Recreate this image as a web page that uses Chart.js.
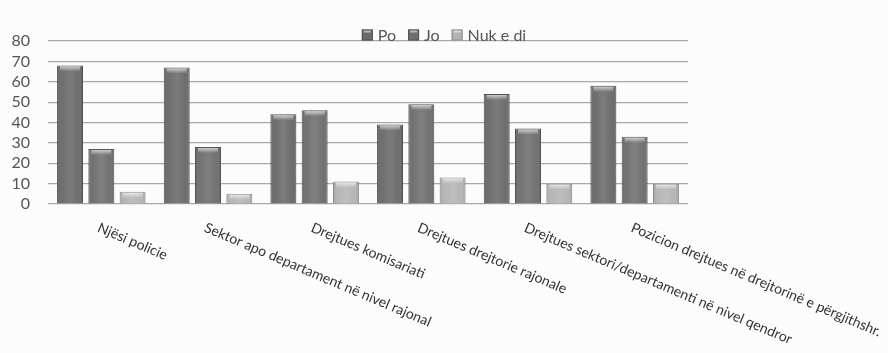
<!DOCTYPE html>
<html>
<head>
<meta charset="utf-8">
<script src="https://cdn.jsdelivr.net/npm/chart.js@4/dist/chart.umd.min.js"></script>
<style>
  html, body { margin: 0; padding: 0; background: #fcfcfc; }
  #wrap { width: 888px; height: 353px; position: relative; }
</style>
</head>
<body>
<div id="wrap"><canvas id="c"></canvas></div>
<script>
// Categories (position levels)
const categories = [
  'Njësi policie',
  'Sektor apo departament në nivel rajonal',
  'Drejtues komisariati',
  'Drejtues drejtorie rajonale',
  'Drejtues sektori/departamenti në nivel qendror',
  'Pozicion drejtues në drejtorinë e përgjithshr.'
];
const seriesNames = ['Po', 'Jo', 'Nuk e di'];
const poValues  = [68, 67, 44, 39, 54, 58];
const joValues  = [27, 28, 46, 49, 37, 33];
const nukValues = [6, 5, 11, 13, 10, 10];
const yTicks = [0, 10, 20, 30, 40, 50, 60, 70, 80];

const seriesColors = ['#6a6a6a', '#6e6e6e', '#b4b4b4'];
const seriesBorders = ['#505050', '#525252', '#8c8c8c'];

const FONT = 'Lato, "Open Sans", sans-serif';

// Cylinder-like shading and top bevel over each bar
const bevelPlugin = {
  id: 'bevel',
  afterDatasetsDraw(chart) {
    const ctx = chart.ctx;
    chart.data.datasets.forEach((ds, di) => {
      const meta = chart.getDatasetMeta(di);
      meta.data.forEach(bar => {
        const p = bar.getProps(['x', 'y', 'base', 'width'], true);
        const left = p.x - p.width / 2, right = p.x + p.width / 2;
        const top = Math.min(p.y, p.base), h = Math.abs(p.base - p.y);
        ctx.save();
        const g = ctx.createLinearGradient(left, 0, right, 0);
        g.addColorStop(0, 'rgba(0,0,0,0.22)');
        g.addColorStop(0.15, 'rgba(255,255,255,0.02)');
        g.addColorStop(0.5, 'rgba(255,255,255,0.12)');
        g.addColorStop(0.85, 'rgba(255,255,255,0.02)');
        g.addColorStop(1, 'rgba(0,0,0,0.25)');
        ctx.fillStyle = g;
        ctx.fillRect(left + 1, top + 1, p.width - 2, h - 1);
        const bh = Math.min(6, h - 1);
        const v = ctx.createLinearGradient(0, top, 0, top + bh);
        v.addColorStop(0, 'rgba(255,255,255,0.75)');
        v.addColorStop(1, 'rgba(255,255,255,0)');
        ctx.fillStyle = v;
        ctx.fillRect(left + 3, top + 1, p.width - 6, bh);
        ctx.restore();
      });
    });
  }
};

// Slanted category labels running down to the right from each tick
const slantLabels = {
  id: 'slantLabels',
  afterDraw(chart) {
    const ctx = chart.ctx;
    const xs = chart.scales.x;
    const angle = 23 * Math.PI / 180;
    ctx.save();
    ctx.font = '14px ' + FONT;
    ctx.fillStyle = '#333';
    ctx.textAlign = 'left';
    ctx.textBaseline = 'middle';
    categories.forEach((lab, i) => {
      const x = xs.getPixelForTick(i) - 3;
      const y = chart.chartArea.bottom + 23;
      ctx.save();
      ctx.translate(x, y);
      ctx.rotate(angle);
      ctx.fillText(lab, 0, 0);
      ctx.restore();
    });
    ctx.restore();
  }
};

// Legend centred across the canvas, overlapping the top grid line
const topLegend = {
  id: 'topLegend',
  afterDraw(chart) {
    const ctx = chart.ctx;
    ctx.save();
    ctx.font = '16px ' + FONT;
    ctx.textBaseline = 'middle';
    const box = 11, gapBox = 5, gapItem = 12;
    const widths = seriesNames.map(n => box + gapBox + ctx.measureText(n).width);
    const total = widths.reduce((a, b) => a + b, 0) + gapItem * (seriesNames.length - 1);
    let x = chart.width / 2 - total / 2;
    const y = chart.chartArea.top - 6;
    seriesNames.forEach((n, i) => {
      ctx.fillStyle = seriesColors[i];
      ctx.fillRect(x, y - box / 2, box, box);
      ctx.strokeStyle = seriesBorders[i];
      ctx.lineWidth = 1;
      ctx.strokeRect(x + 0.5, y - box / 2 + 0.5, box - 1, box - 1);
      ctx.fillStyle = 'rgba(255,255,255,0.5)';
      ctx.fillRect(x + 2, y - box / 2 + 1, box - 4, 2);
      ctx.fillStyle = '#555';
      ctx.fillText(n, x + box + gapBox, y + 1);
      x += widths[i] + gapItem;
    });
    ctx.restore();
  }
};

const values = [poValues, joValues, nukValues];

new Chart(document.getElementById('c'), {
  type: 'bar',
  data: {
    labels: categories,
    datasets: seriesNames.map((name, i) => ({
      label: name,
      data: values[i],
      backgroundColor: seriesColors[i],
      borderColor: seriesBorders[i],
      borderWidth: 1,
      categoryPercentage: 0.88,
      barPercentage: 0.83
    }))
  },
  options: {
    responsive: true,
    maintainAspectRatio: false,
    animation: false,
    events: [],
    layout: { padding: { left: 0, right: 200, top: 41, bottom: 141 } },
    plugins: { legend: { display: false }, tooltip: { enabled: false } },
    scales: {
      x: {
        grid: { display: false },
        border: { display: false },
        ticks: { display: false }
      },
      y: {
        min: 0,
        max: 80,
        afterBuildTicks(scale) { scale.ticks = yTicks.map(v => ({ value: v })); },
        afterFit(scale) { scale.width = 48; },
        grid: { color: '#a8a8a8', lineWidth: 1.2, drawTicks: false },
        border: { display: false },
        ticks: {
          autoSkip: false,
          padding: 18,
          color: '#555',
          font: { family: FONT, size: 16 }
        }
      }
    }
  },
  plugins: [bevelPlugin, slantLabels, topLegend]
});
</script>
</body>
</html>
